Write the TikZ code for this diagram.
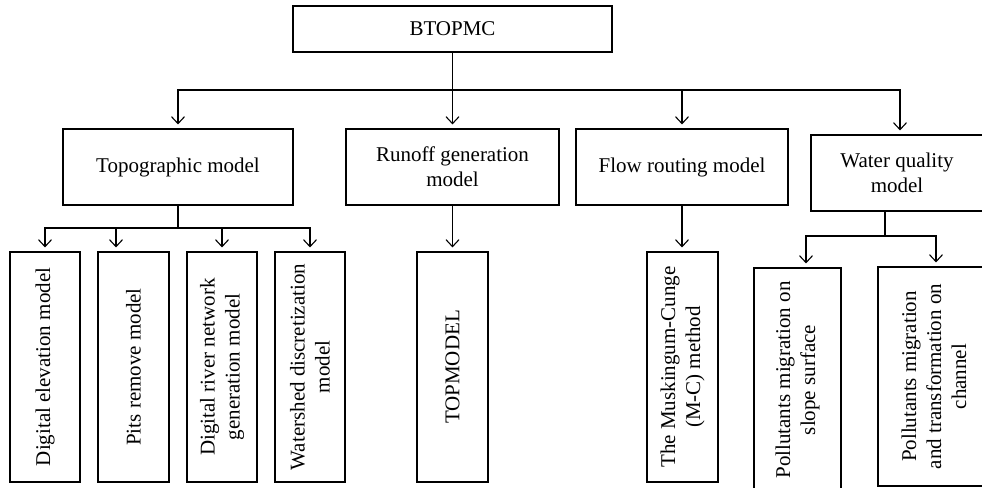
\documentclass[tikz,border=0pt]{standalone}
\usepackage{fontspec}
\setmainfont{Liberation Serif}
\usetikzlibrary{arrows.meta,calc}
\begin{document}
\begin{tikzpicture}[x=1pt,y=-1pt,
  box/.style={draw, line width=1.1pt, inner sep=0pt, align=center, font=\fontsize{21}{25}\selectfont},
  vbox/.style={box, rotate=90},
  arr/.style={line width=1.1pt, -{Straight Barb[length=7pt,width=13pt,line width=1.1pt]}, shorten >=4pt},
  ln/.style={line width=1.1pt}]
\useasboundingbox (0,0) rectangle (982,487);
\clip (0,0) rectangle (982,487);
% top level
\node[box, minimum width=319pt, minimum height=46pt] (top) at (452.5,29) {BTOPMC};
% second level
\node[box, minimum width=230pt, minimum height=76pt] (topo) at (178,167) {Topographic model};
\node[box, minimum width=213pt, minimum height=76pt] (runoff) at (452.5,167) {Runoff generation\\model};
\node[box, minimum width=212pt, minimum height=76pt] (flow) at (682,167) {Flow routing model};
\node[box, minimum width=172pt, minimum height=76pt] (water) at (897,173) {Water quality\\model};
% third level (rotated)
\node[vbox, minimum width=230pt, minimum height=70pt] (dem) at (45,367) {Digital elevation model};
\node[vbox, minimum width=230pt, minimum height=71pt] (pits) at (133.5,367) {Pits remove model};
\node[vbox, minimum width=230pt, minimum height=70pt] (drn) at (222,367) {Digital river network\\generation model};
\node[vbox, minimum width=230pt, minimum height=70pt] (wsd) at (310,367) {Watershed discretization\\model};
\node[vbox, minimum width=230pt, minimum height=71pt] (topm) at (452.5,367) {TOPMODEL};
\node[vbox, minimum width=230pt, minimum height=71pt] (musk) at (682.5,367) {The Muskingum-Cunge\\(M-C) method};
\node[vbox, minimum width=224pt, minimum height=87pt] (poll1) at (797.5,380) {Pollutants migration on\\slope surface};
\node[vbox, minimum width=219pt, minimum height=112pt] (poll2) at (934,376.5) {Pollutants migration\\and transformation on\\channel};
% connectors from top
\coordinate (j0) at (452.5,90);
\draw[ln] (top.south) -- (j0);
\draw[arr] (j0) -| (topo.north);
\draw[arr] (j0) -- (runoff.north);
\draw[arr] (j0) -| (flow.north);
\draw[arr] (j0) -| ($(water.north)+(3,0)$);
% topographic branch
\coordinate (j1) at (178,228);
\draw[ln] (topo.south) -- (j1);
\draw[arr] (j1) -| (dem.east);
\draw[arr] (j1) -| ($(pits.east)+(-17.5,0)$);
\draw[arr] (j1) -| (drn.east);
\draw[arr] (j1) -| (wsd.east);
% runoff and flow
\draw[arr] (runoff.south) -- (runoff.south |- topm.east);
\draw[arr] (flow.south) -- (flow.south |- musk.east);
% water quality branch
\coordinate (j2) at (885,236);
\draw[ln] ($(water.south)+(-12,0)$) -- (j2);
\draw[arr] (j2) -| ($(poll1.east)+(8.5,0)$);
\draw[arr] (j2) -| ($(poll2.east)+(2,0)$);
\end{tikzpicture}
\end{document}
